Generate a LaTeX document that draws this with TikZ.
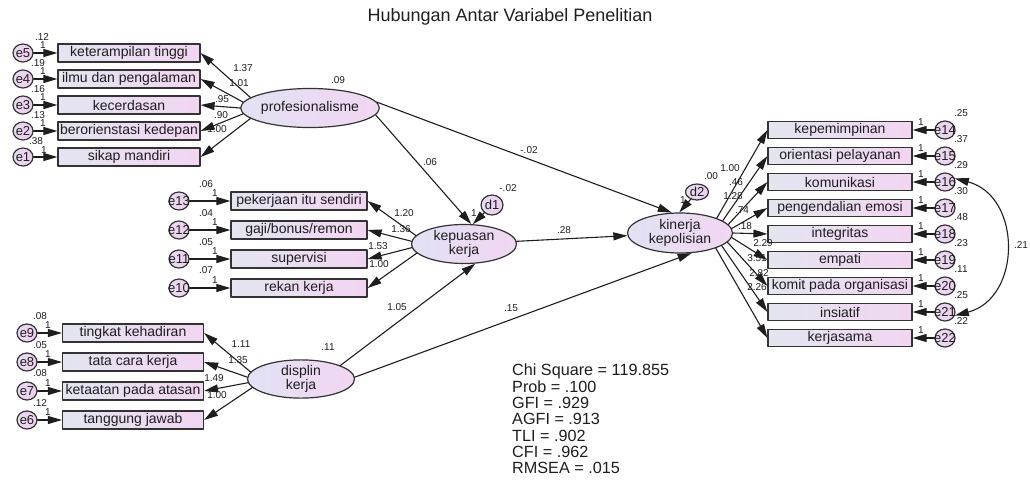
\documentclass[tikz,border=0pt]{standalone}
\usepackage{fontspec}
\setmainfont{Liberation Sans}
\usetikzlibrary{arrows.meta,shapes.geometric}
\definecolor{boxleft}{HTML}{E3E5EF}
\definecolor{boxright}{HTML}{F2D5F2}
\definecolor{ellleft}{HTML}{E2E2F3}
\definecolor{ellright}{HTML}{F1D6F2}
\definecolor{errleft}{HTML}{E6DCEF}
\definecolor{errright}{HTML}{EFCDEF}
\definecolor{edge}{HTML}{333333}
\definecolor{ink}{HTML}{1E1E1E}

\begin{document}
\begin{tikzpicture}[line cap=round, line join=round, x=1pt, y=-1pt,
    obs/.style={draw=edge, line width=1.2pt, left color=boxleft, right color=boxright,
        minimum height=18pt, inner sep=0pt, text=ink, font=\fontsize{14}{14}\selectfont},
    lat/.style={ellipse, draw=edge, line width=1.2pt, left color=ellleft, right color=ellright,
        minimum width=105pt, minimum height=39pt, inner sep=0pt, align=center, text=ink,
        font=\fontsize{14}{14}\selectfont},
    err/.style={ellipse, draw=edge, line width=1.2pt, left color=errleft, right color=errright,
        minimum width=20pt, minimum height=18pt, inner sep=0pt, text=ink,
        font=\fontsize{13}{13}\selectfont},
    reg/.style={draw=ink, line width=1.1pt, -{Triangle[length=14pt,width=8pt]}},
    cov/.style={draw=ink, line width=1.1pt, {Triangle[length=14pt,width=8pt]}-{Triangle[length=14pt,width=8pt]}},
    num/.style={inner sep=0pt, text=ink, font=\fontsize{10}{10}\selectfont}]

    \useasboundingbox (0,0) rectangle (1030,479);

    \node[font=\fontsize{18}{18}\selectfont, text=ink] (title) at (510,17) {Hubungan Antar Variabel Penelitian};

    \node[lat] (pro) at (310,108) {profesionalisme};
    \node[obs, minimum width=142pt] (x5) at (129,53) {keterampilan tinggi};
    \node[obs, minimum width=142pt] (x4) at (129,79) {ilmu dan pengalaman};
    \node[obs, minimum width=142pt] (x3) at (129,105) {kecerdasan};
    \node[obs, minimum width=142pt] (x2) at (129,131) {berorienstasi kedepan};
    \node[obs, minimum width=142pt] (x1) at (129,157) {sikap mandiri};
    \node[err] (e5) at (23,53) {\makebox[0pt]{e5}};
    \node[err] (e4) at (23,79) {\makebox[0pt]{e4}};
    \node[err] (e3) at (23,105) {\makebox[0pt]{e3}};
    \node[err] (e2) at (23,131) {\makebox[0pt]{e2}};
    \node[err] (e1) at (23,157) {\makebox[0pt]{e1}};

    \node[lat] (kep) at (464,244) {kepuasan\\kerja};
    \node[obs, minimum width=136pt] (x13) at (299,201) {pekerjaan itu sendiri};
    \node[obs, minimum width=136pt] (x12) at (299,230) {gaji/bonus/remon};
    \node[obs, minimum width=136pt] (x11) at (299,259) {supervisi};
    \node[obs, minimum width=136pt] (x10) at (299,288) {rekan kerja};
    \node[err] (e13) at (179,201) {\makebox[0pt]{e13}};
    \node[err] (e12) at (179,230) {\makebox[0pt]{e12}};
    \node[err] (e11) at (179,259) {\makebox[0pt]{e11}};
    \node[err] (e10) at (179,288) {\makebox[0pt]{e10}};
    \node[err, minimum width=22pt, minimum height=20pt] (d1) at (492,205) {\makebox[0pt]{d1}};

    \node[lat, minimum width=107pt, minimum height=38pt] (dis) at (301,379) {displin\\kerja};
    \node[obs, minimum width=141pt] (x9) at (133,333) {tingkat kehadiran};
    \node[obs, minimum width=141pt] (x8) at (133,362) {tata cara kerja};
    \node[obs, minimum width=141pt] (x7) at (133,391) {ketaatan pada atasan};
    \node[obs, minimum width=141pt] (x6) at (133,420) {tanggung jawab};
    \node[err] (e9) at (27,333) {\makebox[0pt]{e9}};
    \node[err] (e8) at (27,362) {\makebox[0pt]{e8}};
    \node[err] (e7) at (27,391) {\makebox[0pt]{e7}};
    \node[err] (e6) at (27,420) {\makebox[0pt]{e6}};

    \node[lat, minimum height=40pt] (kin) at (680,233) {kinerja\\kepolisian};
    \node[err, minimum width=23pt, minimum height=16pt] (d2) at (697,192) {\makebox[0pt]{d2}};
    \node[obs, minimum width=144pt, minimum height=17pt] (y1) at (840,130) {kepemimpinan};
    \node[obs, minimum width=144pt, minimum height=17pt] (y2) at (840,156) {orientasi pelayanan};
    \node[obs, minimum width=144pt, minimum height=17pt] (y3) at (840,182) {komunikasi};
    \node[obs, minimum width=144pt, minimum height=17pt] (y4) at (840,208) {pengendalian emosi};
    \node[obs, minimum width=144pt, minimum height=17pt] (y5) at (840,234) {integritas};
    \node[obs, minimum width=144pt, minimum height=17pt] (y6) at (840,260) {empati};
    \node[obs, minimum width=144pt, minimum height=17pt] (y7) at (840,286) {komit pada organisasi};
    \node[obs, minimum width=144pt, minimum height=17pt] (y8) at (840,312) {insiatif};
    \node[obs, minimum width=144pt, minimum height=17pt] (y9) at (840,338) {kerjasama};
    \node[err] (e14) at (945,130) {\makebox[0pt]{e14}};
    \node[err] (e15) at (945,156) {\makebox[0pt]{e15}};
    \node[err] (e16) at (945,182) {\makebox[0pt]{e16}};
    \node[err] (e17) at (945,208) {\makebox[0pt]{e17}};
    \node[err] (e18) at (945,234) {\makebox[0pt]{e18}};
    \node[err] (e19) at (945,260) {\makebox[0pt]{e19}};
    \node[err] (e20) at (945,286) {\makebox[0pt]{e20}};
    \node[err] (e21) at (945,312) {\makebox[0pt]{e21}};
    \node[err] (e22) at (945,338) {\makebox[0pt]{e22}};

    \draw[reg] (e5) -- (x5);
    \draw[reg] (e4) -- (x4);
    \draw[reg] (e3) -- (x3);
    \draw[reg] (e2) -- (x2);
    \draw[reg] (e1) -- (x1);
    \draw[reg] (pro.170) -- (x5.east);
    \draw[reg] (pro.175) -- (x4.east);
    \draw[reg] (pro.180) -- (x3.east);
    \draw[reg] (pro.185) -- (x2.east);
    \draw[reg] (pro.190) -- (x1.east);

    \draw[reg] (e13) -- (x13);
    \draw[reg] (e12) -- (x12);
    \draw[reg] (e11) -- (x11);
    \draw[reg] (e10) -- (x10);
    \draw[reg] (kep.170) -- (x13.east);
    \draw[reg] (kep.177) -- (x12.east);
    \draw[reg] (kep.184) -- (x11.east);
    \draw[reg] (kep.191) -- (x10.east);

    \draw[reg] (e9) -- (x9);
    \draw[reg] (e8) -- (x8);
    \draw[reg] (e7) -- (x7);
    \draw[reg] (e6) -- (x6);
    \draw[reg] (dis.172) -- (x9.east);
    \draw[reg] (dis.178) -- (x8.east);
    \draw[reg] (dis.184) -- (x7.east);
    \draw[reg] (dis.190) -- (x6.east);

    \draw[reg] (kin.22) -- (y1.west);
    \draw[reg] (kin.16) -- (y2.west);
    \draw[reg] (kin.10) -- (y3.west);
    \draw[reg] (kin.5) -- (y4.west);
    \draw[reg] (kin.0) -- (y5.west);
    \draw[reg] (kin.-5) -- (y6.west);
    \draw[reg] (kin.-11) -- (y7.west);
    \draw[reg] (kin.-17) -- (y8.west);
    \draw[reg] (kin.-23) -- (y9.west);
    \draw[reg] (e14) -- (y1);
    \draw[reg] (e15) -- (y2);
    \draw[reg] (e16) -- (y3);
    \draw[reg] (e17) -- (y4);
    \draw[reg] (e18) -- (y5);
    \draw[reg] (e19) -- (y6);
    \draw[reg] (e20) -- (y7);
    \draw[reg] (e21) -- (y8);
    \draw[reg] (e22) -- (y9);
    \draw[cov] (e16.20) .. controls (1022,196) and (1022,298) .. (e21.-20);

    \draw[reg] (pro.-6) -- (kep.70);
    \draw[reg] (pro.5) -- (kin.112);
    \draw[reg] (kep) -- (kin);
    \draw[reg] (dis.19) -- (kep.-60);
    \draw[reg] (dis.2) -- (kin.-60);
    \draw[reg] (d1) -- (kep.66);
    \draw[reg] (d2) -- (kin.92);

    \node[num] (ve5) at (42,37) {.12};
    \node[num] (ve4) at (38,63) {.19};
    \node[num] (ve3) at (38,89) {.16};
    \node[num] (ve2) at (38,115) {.13};
    \node[num] (ve1) at (36,141) {.38};
    \node[num] (o5) at (43,45) {1};
    \node[num] (o4) at (43,71) {1};
    \node[num] (o3) at (43,97) {1};
    \node[num] (o2) at (43,123) {1};
    \node[num] (o1) at (44,150) {1};
    \node[num] (lx5) at (243,68) {1.37};
    \node[num] (lx4) at (239,83) {1.01};
    \node[num] (lx3) at (222,99) {.95};
    \node[num] (lx2) at (221,115) {.90};
    \node[num] (lx1) at (217,129) {1.00};
    \node[num] (vpro) at (338,80) {.09};

    \node[num] (ve13) at (206,184) {.06};
    \node[num] (ve12) at (206,213) {.04};
    \node[num] (ve11) at (206,242) {.05};
    \node[num] (ve10) at (206,270) {.07};
    \node[num] (o13) at (215,193) {1};
    \node[num] (o12) at (215,222) {1};
    \node[num] (o11) at (215,251) {1};
    \node[num] (o10) at (215,280) {1};
    \node[num] (lx13) at (404,213) {1.20};
    \node[num] (lx12) at (401,229) {1.36};
    \node[num] (lx11) at (378,246) {1.53};
    \node[num] (lx10) at (379,264) {1.00};
    \node[num] (vd1) at (508,188) {-.02};
    \node[num] (od1) at (474,213) {1};

    \node[num] (ve9) at (40,316) {.08};
    \node[num] (ve8) at (40,345) {.05};
    \node[num] (ve7) at (40,373) {.08};
    \node[num] (ve6) at (40,403) {.12};
    \node[num] (o9) at (48,325) {1};
    \node[num] (o8) at (48,354) {1};
    \node[num] (o7) at (48,383) {1};
    \node[num] (o6) at (48,412) {1};
    \node[num] (lx9) at (241,344) {1.11};
    \node[num] (lx8) at (238,360) {1.35};
    \node[num] (lx7) at (214,378) {1.49};
    \node[num] (lx6) at (217,395) {1.00};
    \node[num] (vdis) at (328,347) {.11};

    \node[num] (s1) at (430,162) {.06};
    \node[num] (s2) at (529,150) {-.02};
    \node[num] (s3) at (564,230) {.28};
    \node[num] (s4) at (397,307) {1.05};
    \node[num] (s5) at (511,308) {.15};

    \node[num] (vd2) at (711,176) {.00};
    \node[num] (od2) at (683,200) {1};
    \node[num] (ly1) at (730,168) {1.00};
    \node[num] (ly2) at (736,182) {.46};
    \node[num] (ly3) at (733,196) {1.28};
    \node[num] (ly4) at (742,210) {.74};
    \node[num] (ly5) at (745,226) {.18};
    \node[num] (ly6) at (763,243) {2.29};
    \node[num] (ly7) at (757,258) {3.51};
    \node[num] (ly8) at (759,273) {2.82};
    \node[num] (ly9) at (757,287) {2.26};

    \node[num] (ve14) at (961,113) {.25};
    \node[num] (ve15) at (961,139) {.37};
    \node[num] (ve16) at (961,165) {.29};
    \node[num] (ve17) at (961,191) {.30};
    \node[num] (ve18) at (961,217) {.48};
    \node[num] (ve19) at (961,243) {.23};
    \node[num] (ve20) at (961,269) {.11};
    \node[num] (ve21) at (961,295) {.25};
    \node[num] (ve22) at (961,321) {.22};
    \node[num] (o14) at (921,122) {1};
    \node[num] (o15) at (921,148) {1};
    \node[num] (o16) at (921,174) {1};
    \node[num] (o17) at (921,200) {1};
    \node[num] (o18) at (921,226) {1};
    \node[num] (o19) at (921,252) {1};
    \node[num] (o20) at (921,278) {1};
    \node[num] (o21) at (921,304) {1};
    \node[num] (o22) at (921,330) {1};
    \node[num] (vcov) at (1021,245) {.21};

    \node[anchor=north west, inner sep=0pt, align=left, text=ink,
        font=\fontsize{16.2}{16.3}\selectfont] (fit) at (512,364)
        {Chi Square = 119.855\\Prob = .100\\GFI = .929\\AGFI = .913\\TLI = .902\\CFI = .962\\RMSEA = .015};

\end{tikzpicture}
\end{document}
